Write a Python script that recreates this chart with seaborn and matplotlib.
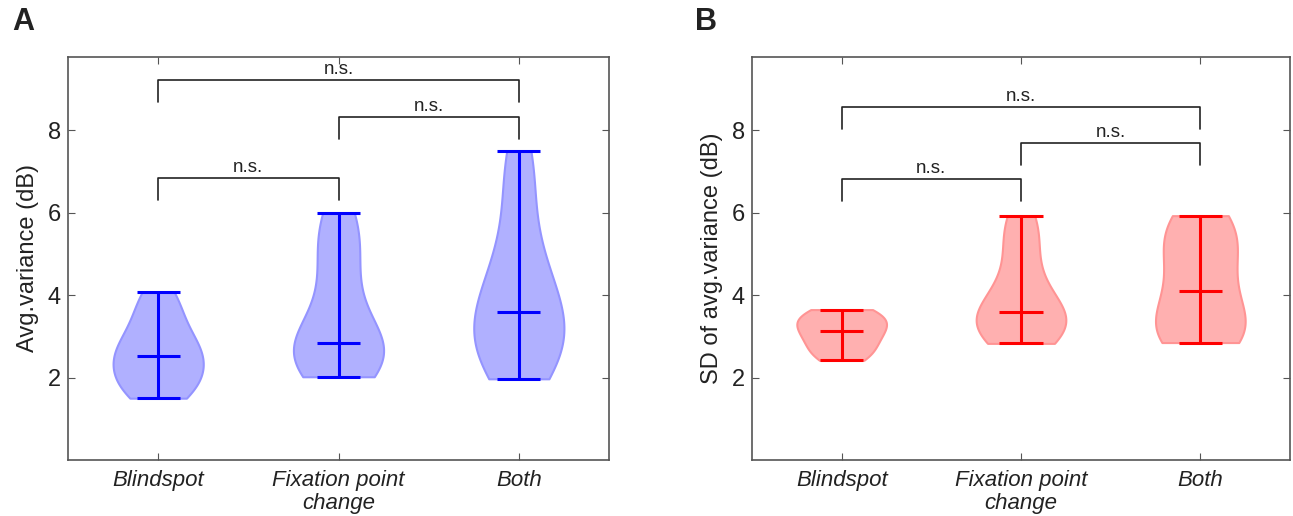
import numpy as np
import pandas as pd
import seaborn as sns
import matplotlib
matplotlib.use("Agg")
import matplotlib.pyplot as plt

categories = ["Blindspot", "Fixation point\nchange", "Both"]

# Panel A: Avg. variance (dB), estimated per-subject values
a_blindspot = [1.50, 1.56, 1.65, 1.78, 1.92, 2.05, 2.18, 2.30, 2.42, 2.52,
               2.62, 2.72, 2.85, 3.00, 3.18, 3.42, 3.70, 3.92, 4.08]
a_fixation = [2.02, 2.12, 2.22, 2.32, 2.42, 2.52, 2.60, 2.68, 2.74, 2.79, 2.83,
              3.00, 3.40, 3.80, 4.20, 4.60, 5.00, 5.30, 5.60, 5.85, 6.00]
a_both = [1.97, 2.10, 2.25, 2.40, 2.55, 2.70, 2.85, 3.00, 3.15, 3.30, 3.45, 3.60,
          3.80, 4.00, 4.20, 4.45, 4.75, 5.10, 5.60, 6.20, 6.90, 7.30, 7.50]

# Panel B: SD of avg. variance (dB)
b_blindspot = [2.42, 2.50, 2.60, 2.72, 2.85, 2.95, 3.05, 3.14,
               3.22, 3.30, 3.38, 3.46, 3.55, 3.60, 3.65]
b_fixation = [2.83, 2.90, 2.98, 3.06, 3.14, 3.22, 3.30, 3.38, 3.45, 3.52, 3.58,
              3.70, 3.85, 4.05, 4.30, 4.60, 4.95, 5.30, 5.60, 5.80, 5.93]
b_both = [2.85, 2.88, 2.95, 3.05, 3.15, 3.30, 3.50, 3.80, 4.10,
          4.40, 4.70, 5.00, 5.25, 5.50, 5.68, 5.80, 5.93]

ylabels = ["Avg.variance (dB)", "SD of avg.variance (dB)"]
sig_text = "n.s."
# bracket heights (y of bar) for pairs (0,1), (1,2), (0,2)
brackets_a = [((0, 1), 6.84), ((1, 2), 8.32), ((0, 2), 9.21)]
brackets_b = [((0, 1), 6.82), ((1, 2), 7.69), ((0, 2), 8.56)]

sns.set_theme(style="white")
plt.rcParams["font.family"] = ["Liberation Sans", "DejaVu Sans"]

fig = plt.figure(figsize=(12.93, 5.16), dpi=100)
ax_a = fig.add_axes([68 / 1293, 56 / 516, 541 / 1293, 403 / 516])
ax_b = fig.add_axes([752 / 1293, 56 / 516, 538 / 1293, 403 / 516])

panels = [
    (ax_a, [a_blindspot, a_fixation, a_both], (0.69, 0.69, 1.0), (0.58, 0.58, 1.0), (0, 0, 1), brackets_a),
    (ax_b, [b_blindspot, b_fixation, b_both], (1.0, 0.69, 0.69), (1.0, 0.58, 0.58), (1, 0, 0), brackets_b),
]

for i, (ax, groups, fill, edge, line, brackets) in enumerate(panels):
    df = pd.DataFrame({
        "group": np.concatenate([[c] * len(g) for c, g in zip(categories, groups)]),
        "value": np.concatenate(groups),
    })
    sns.violinplot(data=df, x="group", y="value", order=categories, cut=0, inner=None,
                   density_norm="width", width=0.5, color=fill, linecolor=edge,
                   saturation=1, linewidth=1.5, bw_adjust=1.1, ax=ax)
    for pos, g in enumerate(groups):
        gmin, gmed, gmax = np.min(g), np.median(g), np.max(g)
        ax.vlines(pos, gmin, gmax, color=line, lw=2.2, zorder=5)
        ax.hlines([gmin, gmed, gmax], pos - 0.12, pos + 0.12, color=line, lw=2.2, zorder=5)
    for (p1, p2), yb in brackets:
        ax.plot([p1, p1, p2, p2], [yb - 0.53, yb, yb, yb - 0.53], color="#222222", lw=1.2)
        ax.text((p1 + p2) / 2, yb + 0.05, sig_text, ha="center", va="bottom", fontsize=13.5,
                color="#222222")
    ax.set_xlim(-0.5, 2.5)
    ax.set_ylim(0, 9.78)
    ax.set_yticks([2, 4, 6, 8])
    ax.set_xlabel("")
    ax.set_ylabel(ylabels[i], fontsize=17, color="#222222", labelpad=6)
    ax.tick_params(axis="both", direction="in", length=5, width=0.8, color="#555555",
                   top=True, right=True, bottom=True, left=True)
    ax.tick_params(axis="y", labelsize=17, labelcolor="#222222", pad=5)
    ax.tick_params(axis="x", labelsize=16, labelcolor="#222222", pad=7)
    for lbl in ax.get_xticklabels():
        lbl.set_fontstyle("italic")
        lbl.set_linespacing(1.12)
    for s in ax.spines.values():
        s.set_visible(True)
        s.set_color("#555555")
        s.set_linewidth(1.2)

fig.text(12 / 1293, 1 - 22 / 516, "A", fontsize=22, fontweight="bold", va="center", ha="left",
         color="#222222")
fig.text(695 / 1293, 1 - 22 / 516, "B", fontsize=22, fontweight="bold", va="center", ha="left",
         color="#222222")

fig.savefig("out.png", dpi=100)
